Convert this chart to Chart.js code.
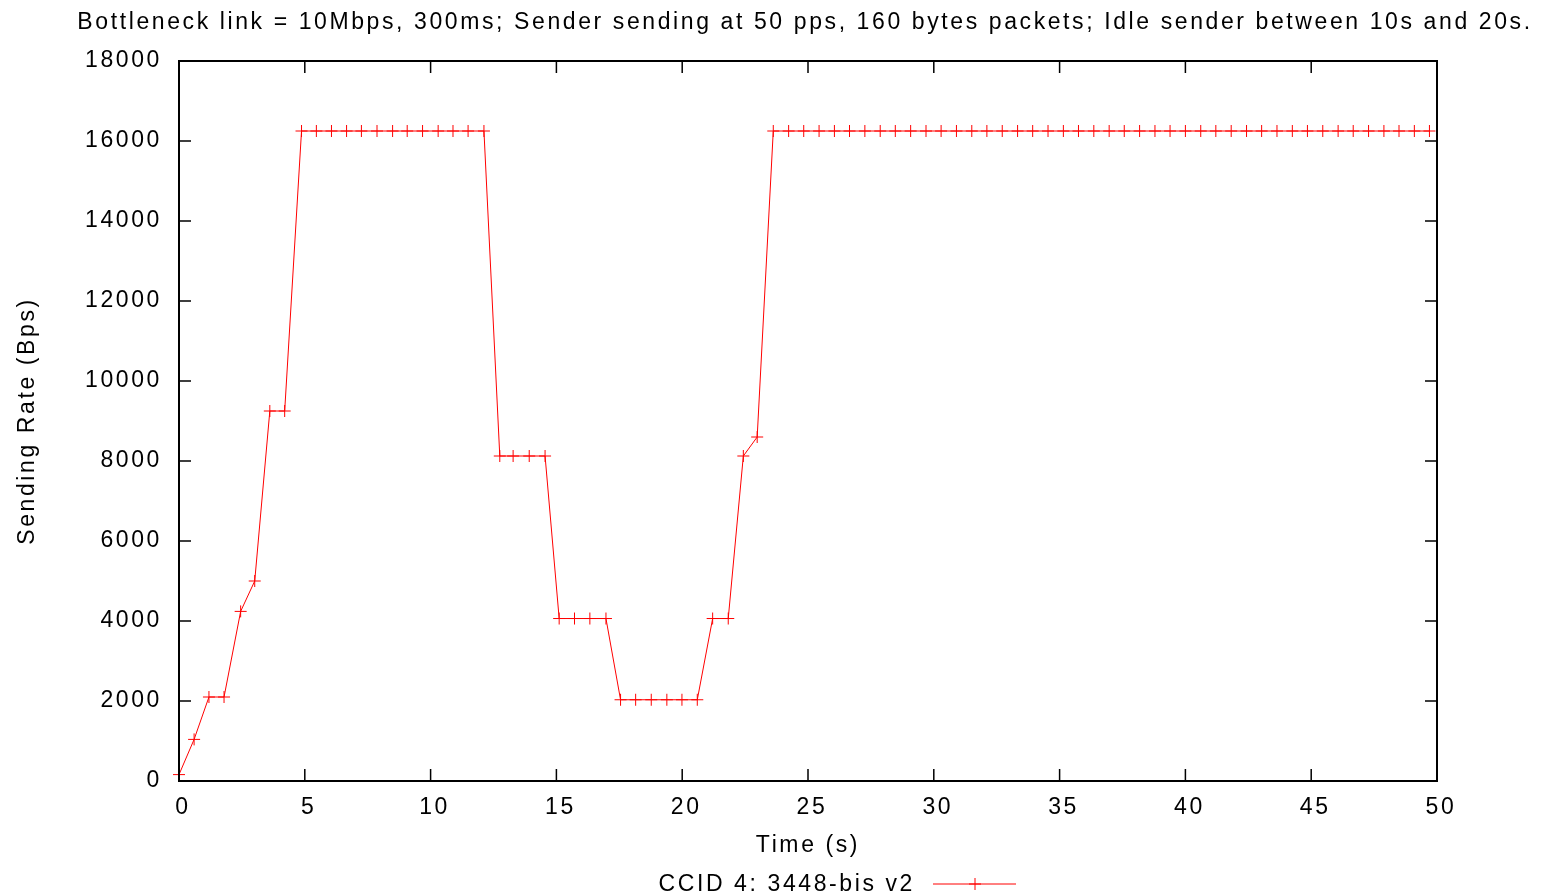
<!DOCTYPE html>
<html>
<head>
<meta charset="utf-8">
<title>CCID 4 sending rate</title>
<script src="https://cdn.jsdelivr.net/npm/chart.js@4.4.1/dist/chart.umd.min.js"></script>
<style>
  html, body { margin: 0; padding: 0; background: #fff; }
  #wrap { width: 1555px; height: 895px; position: relative; }
</style>
</head>
<body>
<div id="wrap"><canvas id="chartRate"></canvas></div>
<script>
// Dados
const tempos = [
  0, 0.60, 1.19, 1.79, 2.45, 3.01, 3.61, 4.20,
  4.87, 5.46, 6.06, 6.66, 7.25, 7.87, 8.49, 9.07, 9.68, 10.30, 10.89, 11.49, 12.12,
  12.75, 13.28, 13.92, 14.55,
  15.11, 15.72, 16.33, 16.97,
  17.55, 18.15, 18.77, 19.39, 19.99, 20.60,
  21.21, 21.83, 22.43, 22.98,
  23.62, 24.23, 24.83, 25.44, 26.05, 26.65, 27.26, 27.87, 28.47, 29.08,
  29.69, 30.29, 30.90, 31.51, 32.11, 32.72, 33.33, 33.93, 34.54, 35.15,
  35.75, 36.36, 36.97, 37.57, 38.18, 38.79, 39.39, 40.00, 40.61, 41.21,
  41.82, 42.43, 43.03, 43.64, 44.25, 44.85, 45.46, 46.07, 46.67, 47.28,
  47.89, 48.49, 49.10, 49.70
];
const taxas = [
  160, 1040, 2100, 2100, 4240, 5000, 9250, 9250,
  16250, 16250, 16250, 16250, 16250, 16250, 16250, 16250, 16250, 16250, 16250, 16250, 16250,
  8125, 8125, 8125, 8125,
  4062, 4062, 4062, 4062,
  2031, 2031, 2031, 2031, 2031, 2031,
  4062, 4062, 8125, 8600,
  16250, 16250, 16250, 16250, 16250, 16250, 16250, 16250, 16250, 16250,
  16250, 16250, 16250, 16250, 16250, 16250, 16250, 16250, 16250, 16250,
  16250, 16250, 16250, 16250, 16250, 16250, 16250, 16250, 16250, 16250,
  16250, 16250, 16250, 16250, 16250, 16250, 16250, 16250, 16250, 16250,
  16250, 16250, 16250, 16250
];
const ticksX = [0, 5, 10, 15, 20, 25, 30, 35, 40, 45, 50];
const ticksY = [0, 2000, 4000, 6000, 8000, 10000, 12000, 14000, 16000, 18000];
const titulo = 'Bottleneck link = 10Mbps, 300ms; Sender sending at 50 pps, 160 bytes packets; Idle sender between 10s and 20s.';
const nomeSerie = 'CCID 4: 3448-bis v2';

const FONTE = "'Liberation Sans', Arial, sans-serif";
const TAM = 23;
const ESPACO = '2.6px'; // espaçamento largo das letras do gnuplot
const VERMELHO = '#ff0000';

// Moldura, marcas internas, título e legenda no estilo gnuplot
const molduraPlugin = {
  id: 'moldura',
  beforeDraw(chart) {
    chart.ctx.letterSpacing = ESPACO;
  },
  afterDraw(chart) {
    const ctx = chart.ctx;
    const a = chart.chartArea;
    const sx = chart.scales.x;
    const sy = chart.scales.y;
    ctx.save();
    ctx.strokeStyle = '#000';
    ctx.lineWidth = 1.5;
    ctx.beginPath();
    ticksX.forEach(v => {
      const px = sx.getPixelForValue(v);
      ctx.moveTo(px, a.bottom); ctx.lineTo(px, a.bottom - 12);
      ctx.moveTo(px, a.top); ctx.lineTo(px, a.top + 12);
    });
    ticksY.forEach(v => {
      const py = sy.getPixelForValue(v);
      ctx.moveTo(a.left, py); ctx.lineTo(a.left + 12, py);
      ctx.moveTo(a.right, py); ctx.lineTo(a.right - 12, py);
    });
    ctx.stroke();
    ctx.lineWidth = 2;
    ctx.strokeRect(a.left, a.top, a.right - a.left, a.bottom - a.top);

    // título
    ctx.letterSpacing = ESPACO;
    ctx.fillStyle = '#000';
    ctx.font = TAM + 'px ' + FONTE;
    ctx.textAlign = 'center';
    ctx.textBaseline = 'middle';
    ctx.fillText(titulo, 805, 23);

    // legenda
    const ly = 884;
    ctx.textAlign = 'right';
    ctx.fillText(nomeSerie, 915, ly + 1);
    ctx.strokeStyle = VERMELHO;
    ctx.lineWidth = 1;
    ctx.beginPath();
    ctx.moveTo(933, ly); ctx.lineTo(1016, ly);
    ctx.moveTo(975 - 6, ly); ctx.lineTo(975 + 6, ly);
    ctx.moveTo(975, ly - 6); ctx.lineTo(975, ly + 6);
    ctx.stroke();
    ctx.restore();
  }
};

document.addEventListener('DOMContentLoaded', () => {
  const pontos = tempos.map((t, i) => ({ x: t, y: taxas[i] }));
  const ctx = document.getElementById('chartRate').getContext('2d');
  new Chart(ctx, {
    type: 'line',
    data: {
      datasets: [{
        label: nomeSerie,
        data: pontos,
        borderColor: VERMELHO,
        borderWidth: 1,
        pointStyle: 'cross',
        pointRadius: 6,
        pointBorderColor: VERMELHO,
        pointBorderWidth: 1,
        tension: 0,
        fill: false,
        clip: false
      }]
    },
    options: {
      responsive: true,
      maintainAspectRatio: false,
      animation: false,
      layout: { padding: { top: 61, right: 118, bottom: 34, left: 0 } },
      plugins: {
        legend: { display: false },
        title: { display: false },
        tooltip: { enabled: false }
      },
      scales: {
        x: {
          type: 'linear',
          min: 0,
          max: 50,
          afterFit: s => { s.height = 80; },
          afterBuildTicks: s => { s.ticks = ticksX.map(v => ({ value: v })); },
          grid: { display: false, drawTicks: false },
          border: { display: false },
          ticks: { color: '#000', font: { family: FONTE, size: TAM }, padding: 13, labelOffset: 4, maxRotation: 0, autoSkip: false, callback: v => String(v) },
          title: { display: true, text: 'Time (s)', color: '#000', font: { family: FONTE, size: TAM }, padding: { top: 0, bottom: 2 } }
        },
        y: {
          min: 0,
          max: 18000,
          afterFit: s => { s.width = 179; },
          afterBuildTicks: s => { s.ticks = ticksY.map(v => ({ value: v })); },
          grid: { display: false, drawTicks: false },
          border: { display: false },
          ticks: { color: '#000', font: { family: FONTE, size: TAM }, padding: 17, autoSkip: false, callback: v => String(v) },
          title: { display: true, text: 'Sending Rate (Bps)', color: '#000', font: { family: FONTE, size: TAM }, padding: { top: 14, bottom: 0 } }
        }
      }
    },
    plugins: [molduraPlugin]
  });
});
</script>
</body>
</html>
